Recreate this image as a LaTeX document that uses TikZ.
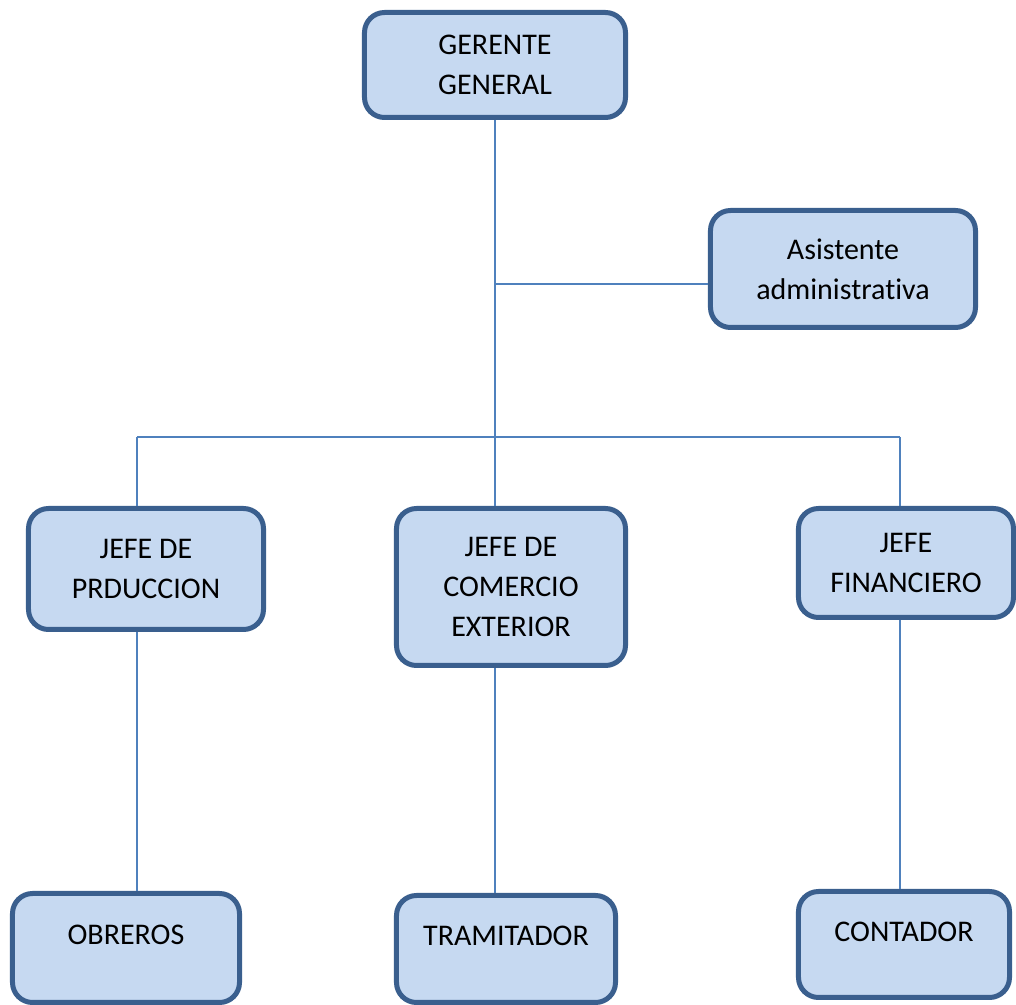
\documentclass[tikz,border=0pt]{standalone}
\usepackage{fontspec}
\setmainfont{Carlito}[Ligatures=NoCommon]
\definecolor{boxFill}{HTML}{C6D9F1}
\definecolor{boxLine}{HTML}{3A5F8E}
\definecolor{linkBlue}{HTML}{4F81BD}

\begin{document}
\begin{tikzpicture}[x=0.4pt,y=-0.4pt]
		\tikzstyle{BOX} = [draw=boxLine, fill=boxFill, line width=2pt, rounded corners=8pt, inner sep=0pt, align=center, font=\fontsize{12pt}{16pt}\selectfont]
		\tikzstyle{top} = [BOX]
		\tikzstyle{bot} = [BOX, text height=7.7pt, text depth=10.4pt]
		\tikzstyle{link} = [draw=linkBlue, line width=0.8pt]

		\useasboundingbox (0,0) rectangle (1016,1005);

		\node[top, minimum width=104.4pt, minimum height=42pt] (gg) at 		(495, 65) {GERENTE\\GENERAL};
		\node[top, minimum width=106pt, minimum height=46.8pt] (asis) at 	(843, 269) {Asistente\\administrativa};
		\node[top, minimum width=94pt, minimum height=48.4pt] (jp) at 		(146, 569) {JEFE DE\\PRDUCCION};
		\node[top, minimum width=91.6pt, minimum height=62.8pt] (jc) at 	(511, 587) {JEFE DE\\COMERCIO\\EXTERIOR};
		\node[top, minimum width=86pt, minimum height=43.6pt] (jf) at 		(906, 563) {JEFE\\FINANCIERO};
		\node[bot, minimum width=90.8pt, minimum height=43.6pt] (ob) at 	(126, 948) {OBREROS};
		\node[bot, minimum width=87.6pt, minimum height=42.8pt] (tr) at 	(506, 949) {TRAMITADOR};
		\node[bot, minimum width=84.4pt, minimum height=42.4pt] (co) at 	(904, 944.5) {CONTADOR};

		\coordinate (ja) at (495, 284);
		\coordinate (bl) at (137, 437);
		\coordinate (br) at (900, 437);

		\draw[link] (gg.south) -- (gg.south |- jc.north);
		\draw[link] (ja) -- (ja -| asis.west);
		\draw[link] (bl) -- (br);
		\draw[link] (bl) -- (bl |- jp.north);
		\draw[link] (br) -- (br |- jf.north);
		\draw[link] (bl |- jp.south) -- (bl |- ob.north);
		\draw[link] (gg.south |- jc.south) -- (gg.south |- tr.north);
		\draw[link] (br |- jf.south) -- (br |- co.north);
\end{tikzpicture}
\end{document}
